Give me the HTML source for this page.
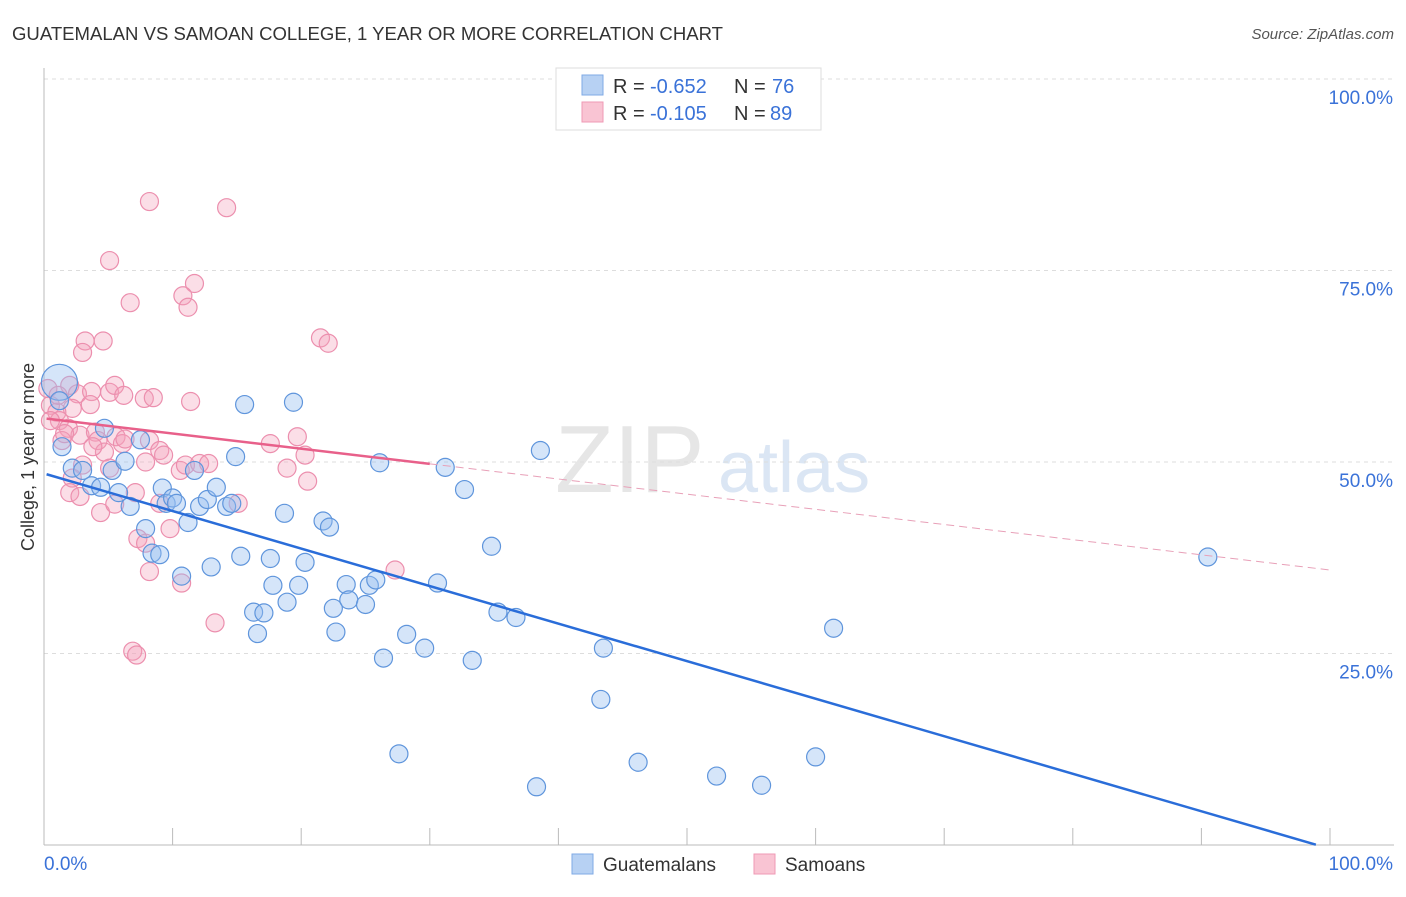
<!DOCTYPE html>
<html><head><meta charset="utf-8"><style>
body{margin:0;background:#fff;font-family:"Liberation Sans",sans-serif}
svg text{font-family:"Liberation Sans",sans-serif}
</style></head><body>
<svg id="chart" width="1406" height="892" xmlns="http://www.w3.org/2000/svg">
<text x="12" y="40" font-size="18" fill="#333" textLength="711" lengthAdjust="spacingAndGlyphs">GUATEMALAN VS SAMOAN COLLEGE, 1 YEAR OR MORE CORRELATION CHART</text>
<text x="1394" y="39" font-size="15" fill="#555" text-anchor="end" font-style="italic">Source: ZipAtlas.com</text>
<text x="555" y="492" font-size="96" fill="#e6e6e6" font-family="Liberation Serif">ZIP</text>
<text x="718" y="492" font-size="72" fill="#dbe6f4">atlas</text>
<text transform="translate(34,457) rotate(-90)" font-size="18" fill="#333" text-anchor="middle">College, 1 year or more</text>
<g id="grid"></g><g id="axes"></g><g id="pts-pink"></g><g id="pts-blue"></g><g id="lines"></g>
<g>
<rect x="556" y="68" width="265" height="62" fill="#fff" stroke="#ddd"/>
<rect x="582" y="75" width="21" height="20" fill="#b7d1f3" stroke="#7faae6"/>
<rect x="582" y="102" width="21" height="20" fill="#f9c4d3" stroke="#ef9ab5"/>
<text x="613" y="93" font-size="20" fill="#333">R =</text>
<text x="650" y="93" font-size="20" fill="#3a72d8">-0.652</text>
<text x="734" y="93" font-size="20" fill="#333">N =</text>
<text x="772" y="93" font-size="20" fill="#3a72d8">76</text>
<text x="613" y="120" font-size="20" fill="#333">R =</text>
<text x="650" y="120" font-size="20" fill="#3a72d8">-0.105</text>
<text x="734" y="120" font-size="20" fill="#333">N =</text>
<text x="770" y="120" font-size="20" fill="#3a72d8">89</text>
</g>
<g>
<rect x="572" y="854" width="21" height="20" fill="#b7d1f3" stroke="#7faae6"/>
<text x="603" y="871" font-size="19" fill="#333">Guatemalans</text>
<rect x="754" y="854" width="21" height="20" fill="#f9c4d3" stroke="#ef9ab5"/>
<text x="785" y="871" font-size="19" fill="#333">Samoans</text>
</g>
</svg>
<script>
const yTicks=[25,50,75,100];
const yTickLabels=["25.0%","50.0%","75.0%","100.0%"];
const blueX=[1.2,1.4,2.2,3.0,3.7,4.4,5.3,4.7,5.8,6.3,6.7,7.5,9.2,7.9,8.4,9.0,9.5,10,10.3,10.7,11.2,11.7,12.1,12.7,13,13.4,14.2,14.6,14.9,15.3,15.6,16.3,16.6,17.1,17.6,17.8,18.7,18.9,19.4,19.8,20.3,21.7,22.2,22.5,22.7,23.5,23.7,25,25.3,25.8,26.1,26.4,27.6,28.2,29.6,30.6,31.2,32.7,33.3,34.8,35.3,36.7,38.3,38.6,43.3,43.5,46.2,52.3,55.8,60,61.4,90.5,1.2];
const blueY=[60.4,52.0,49.2,48.9,46.9,46.7,48.9,54.4,46.0,50.1,44.2,52.9,46.6,41.3,38.1,37.9,44.6,45.3,44.6,35.1,42.1,48.9,44.2,45.1,36.3,46.7,44.2,44.6,50.7,37.7,57.5,30.4,27.6,30.3,37.4,33.9,43.3,31.7,57.8,33.9,36.9,42.3,41.5,30.9,27.8,34.0,32.0,31.4,33.9,34.6,49.9,24.4,11.9,27.5,25.7,34.2,49.3,46.4,24.1,39.0,30.4,29.7,7.6,51.5,19.0,25.7,10.8,9.0,7.8,11.5,28.3,37.6,58];
const pinkX=[8.2,14.2,5.1,11.7,10.8,6.7,11.2,21.5,22.1,3.2,4.6,3.0,0.3,2,2.6,3.7,5.1,5.5,6.2,7.8,8.5,11.4,3.6,2.2,0.5,1,1.2,1.9,2.8,4,4.2,5.6,6.1,4.7,8.2,9,9.3,7.9,5.1,3.0,2.2,2,2.8,4.4,5.5,7.1,9,9.8,7.3,7.9,8.2,10.7,10.6,11,12.1,12.8,15.1,13.3,6.9,7.2,17.6,19.7,18.9,20.3,20.5,27.3,1.1,1.4,0.5,1.6,6.3,3.8];
const pinkY=[84.0,83.2,76.3,73.3,71.7,70.8,70.2,66.2,65.5,65.8,65.8,64.3,59.6,60,58.9,59.2,59.1,60,58.7,58.3,58.4,57.9,57.5,57,57.4,56.5,55.4,54.4,53.5,53.9,52.8,53.3,52.4,51.3,52.8,51.5,50.9,50,49.2,49.6,47.9,46,45.5,43.4,44.5,46,44.6,41.3,40,39.4,35.7,34.2,48.9,49.6,49.8,49.8,44.6,29,25.3,24.8,52.4,53.3,49.2,50.9,47.5,35.9,58.7,52.8,55.4,53.7,53,52];
const blueFit=[48.5,-0.49];
const pinkFit=[55.7,-0.198];
const X0=44,X1=1330,Y0=845,Y100=79;
const sx=v=>X0+(X1-X0)*v/100;
const sy=v=>Y0-(Y0-Y100)*v/100;
const NS="http://www.w3.org/2000/svg";
function mk(tag,parent,attrs){const e=document.createElementNS(NS,tag);for(const k in attrs)e.setAttribute(k,attrs[k]);document.getElementById(parent).appendChild(e);return e;}
yTicks.forEach((t,i)=>{
 const g=mk('line','grid',{x1:X0,x2:1394,y1:sy(t),y2:sy(t),stroke:'#ddd','stroke-dasharray':'4,4'});
 
 
 const tx=mk('text','axes',{x:1393,y:sy(t)+25,'font-size':19,fill:'#3a72d8','text-anchor':'end'});
 tx.textContent=yTickLabels[i];
 
 
});
const ax=mk('line','axes',{x1:X0,x2:1394,y1:Y0,y2:Y0,stroke:'#bbb'});


const ay=mk('line','axes',{x1:X0,x2:X0,y1:68,y2:Y0,stroke:'#bbb'});


for(let i=0;i<=10;i++){
 const t=mk('line','axes',{x1:sx(i*10),x2:sx(i*10),y1:828,y2:Y0,stroke:'#bbb'});
 
 
}
const xl=mk('text','axes',{x:44,y:870,'font-size':19,fill:'#3a72d8'});xl.textContent='0.0%';


const xr=mk('text','axes',{x:1393,y:870,'font-size':19,fill:'#3a72d8','text-anchor':'end'});xr.textContent='100.0%';


pinkX.forEach((x,i)=>{
 const c=mk('circle','pts-pink',{cx:sx(x),cy:sy(pinkY[i]),r:9,fill:'rgba(244,160,186,0.35)',stroke:'#ec8fae','stroke-width':1.2});
 
 
});
blueX.forEach((x,i)=>{
 const c=mk('circle','pts-blue',{cx:sx(x),cy:sy(blueY[i]),r:i==0?18:9,fill:'rgba(150,190,240,0.4)',stroke:'#5f95dc','stroke-width':1.2});
 
 
});
const bl=mk('line','lines',{x1:sx(0.2),y1:sy(blueFit[0]+blueFit[1]*0.2),x2:sx(98.9),y2:sy(blueFit[0]+blueFit[1]*98.9),stroke:'#2a6dd9','stroke-width':2.5});


const pl=mk('line','lines',{x1:sx(0.2),y1:sy(pinkFit[0]+pinkFit[1]*0.2),x2:sx(30),y2:sy(pinkFit[0]+pinkFit[1]*30),stroke:'#e8608a','stroke-width':2.5});


const pd=mk('line','lines',{x1:sx(30),y1:sy(pinkFit[0]+pinkFit[1]*30),x2:sx(100),y2:sy(pinkFit[0]+pinkFit[1]*100),stroke:'#e8a0b8','stroke-width':1,'stroke-dasharray':'8,5'});


</script>
</body></html>
